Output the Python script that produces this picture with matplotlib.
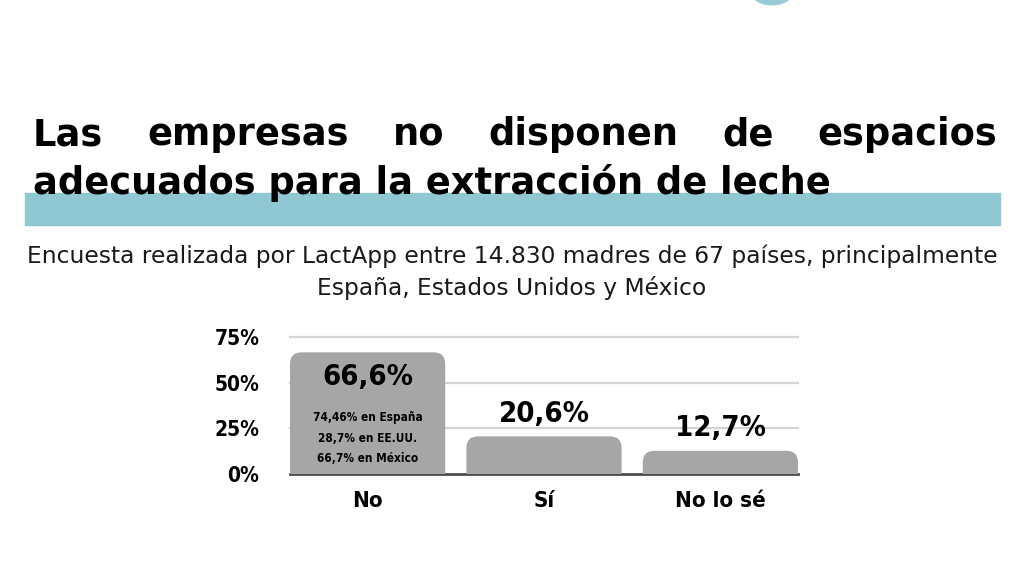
import matplotlib.pyplot as plt
from matplotlib.patches import FancyBboxPatch, Ellipse

W, H = 1024, 576

title_line1 = ["Las", "empresas", "no", "disponen", "de", "espacios"]
title_line2 = "adecuados para la extracción de leche"
subtitle = ("Encuesta realizada por LactApp entre 14.830 madres de 67 países, principalmente\n"
            "España, Estados Unidos y México")

categories = ["No", "Sí", "No lo sé"]
values = [66.6, 20.6, 12.7]
value_labels = ["66,6%", "20,6%", "12,7%"]
country_notes = ["74,46% en España", "28,7% en EE.UU.", "66,7% en México"]
yticks = [0, 25, 50, 75]
ytick_labels = ["0%", "25%", "50%", "75%"]

BAR = "#a6a6a6"
TEAL = "#8fc8d2"
GRID = "#d4d4d4"
COND = dict(family="DejaVu Sans", fontstretch="condensed", fontweight="bold")


def fx(px):
    return px / W


def fy(py):
    return 1 - py / H


fig = plt.figure(figsize=(W / 100, H / 100), dpi=100)
fig.patch.set_facecolor("white")

# logo fragment at the top
logo = fig.add_axes([0, 0, 1, 1], zorder=-5)
logo.set_xlim(0, W)
logo.set_ylim(H, 0)
logo.axis("off")
logo.add_patch(Ellipse((772, -10), 38, 24, facecolor="none", edgecolor="#7fbfcb", lw=5, alpha=0.8))

# teal band behind the second title line
fig.patches.append(plt.Rectangle((fx(25), fy(225)), fx(1000) - fx(25), (225 - 193) / H,
                                 transform=fig.transFigure, color=TEAL, zorder=0))

# justified first title line
renderer = fig.canvas.get_renderer()
words = [fig.text(0, fy(145), w, fontsize=26.5, fontweight="bold", va="baseline", zorder=3)
         for w in title_line1]
widths = [t.get_window_extent(renderer).width for t in words]
left, right = 33, 997
gap = (right - left - sum(widths)) / (len(words) - 1)
x = left
for t, w in zip(words, widths):
    t.set_x(fx(x))
    x += w + gap

fig.text(fx(33), fy(194), title_line2, fontsize=26.5, fontweight="bold", va="baseline", zorder=3)

fig.text(0.5, fy(272), subtitle, fontsize=16.8, ha="center", va="center",
         color="#1a1a1a", linespacing=1.4)

# chart
ax = fig.add_axes([fx(290), fy(474), fx(798) - fx(290), (474 - 337) / H])
pos = list(range(len(categories)))
width = 0.88
ax.set_xlim(-0.44, len(categories) - 1 + 0.44)
ax.set_ylim(0, 75)
for s in ax.spines.values():
    s.set_visible(False)

for v in yticks[1:]:
    ax.axhline(v, color=GRID, lw=1.6, zorder=0, clip_on=False)
ax.axhline(0, color="#4d4d4d", lw=2, zorder=1, clip_on=False)

# bars with rounded top corners (bottom corners hidden below the axis)
aspect = (1 / 1.827) / (1 / 176)
for p, v in zip(pos, values):
    bar = FancyBboxPatch((p - width / 2, -10), width, v + 10,
                         boxstyle="round,pad=0,rounding_size=0.065",
                         mutation_aspect=aspect, facecolor=BAR, edgecolor="none", zorder=2)
    ax.add_patch(bar)

ax.text(pos[0], values[0] - 6, value_labels[0], ha="center", va="top", fontsize=21, zorder=3, **COND)
ax.text(pos[0], 19.7, "\n".join(country_notes), ha="center", va="center", fontsize=8.5,
        linespacing=1.75, zorder=3, **COND)
for p, v, lab in zip(pos[1:], values[1:], value_labels[1:]):
    ax.annotate(lab, (p, v), xytext=(0, 6), textcoords="offset points", ha="center",
                va="bottom", fontsize=21, zorder=3, **COND)

ax.set_yticks(yticks)
ax.set_yticklabels(ytick_labels, fontsize=15, **COND)
ax.set_xticks(pos)
ax.set_xticklabels(categories, fontsize=16, **COND)
ax.tick_params(axis="y", length=0, pad=22)
ax.tick_params(axis="x", length=0, pad=12)

fig.savefig("out.png", dpi=100)
